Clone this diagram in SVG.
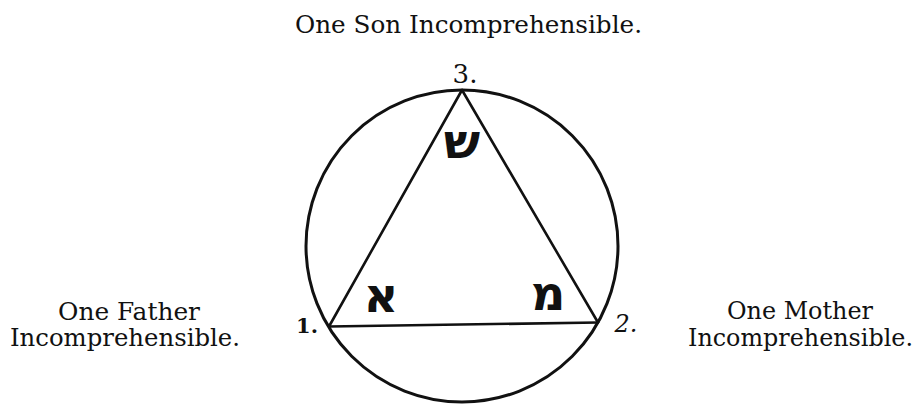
<svg xmlns="http://www.w3.org/2000/svg" width="918" height="404" viewBox="0 0 918 404">
<style>
.cap{font-family:"DejaVu Serif","Liberation Serif",serif;font-size:23.5px;fill:#111;}
.num{font-family:"DejaVu Serif","Liberation Serif",serif;fill:#111;}
.heb{font-family:"DejaVu Sans","Liberation Sans",sans-serif;font-weight:bold;font-size:48px;fill:#111;}
.ln{fill:none;stroke:#111;stroke-linecap:round;stroke-linejoin:round;}
</style>
<rect width="918" height="404" fill="#fff"/>
<g id="circle"><circle class="ln" cx="462" cy="246" r="156" stroke-width="3"/></g>
<g id="connectors">
<line class="ln" x1="462" y1="90" x2="329" y2="326.5" stroke-width="2.6"/>
<line class="ln" x1="462" y1="90" x2="598" y2="322.5" stroke-width="2.6"/>
<line class="ln" x1="329" y1="326.5" x2="598" y2="322.5" stroke-width="2.6"/>
</g>
<g id="node-son">
<text class="cap" x="295" y="33" textLength="347" lengthAdjust="spacingAndGlyphs">One Son Incomprehensible.</text>
<text class="num" x="465" y="83" font-size="26" text-anchor="middle">3.</text>
<text class="heb" x="462" y="158" text-anchor="middle">ש</text>
</g>
<g id="node-father">
<text class="cap" x="58" y="320" textLength="142" lengthAdjust="spacingAndGlyphs">One Father</text>
<text class="cap" x="10" y="346" textLength="230" lengthAdjust="spacingAndGlyphs">Incomprehensible.</text>
<text class="num" x="307" y="333" font-size="21" font-weight="bold" text-anchor="middle">1.</text>
<text class="heb" x="381" y="312" text-anchor="middle">א</text>
</g>
<g id="node-mother">
<text class="cap" x="727" y="319" textLength="146" lengthAdjust="spacingAndGlyphs">One Mother</text>
<text class="cap" x="688" y="346" textLength="225" lengthAdjust="spacingAndGlyphs">Incomprehensible.</text>
<text class="num" x="626" y="332" font-size="24" font-style="italic" text-anchor="middle">2.</text>
<text class="heb" x="548" y="310" text-anchor="middle">מ</text>
</g>
</svg>
